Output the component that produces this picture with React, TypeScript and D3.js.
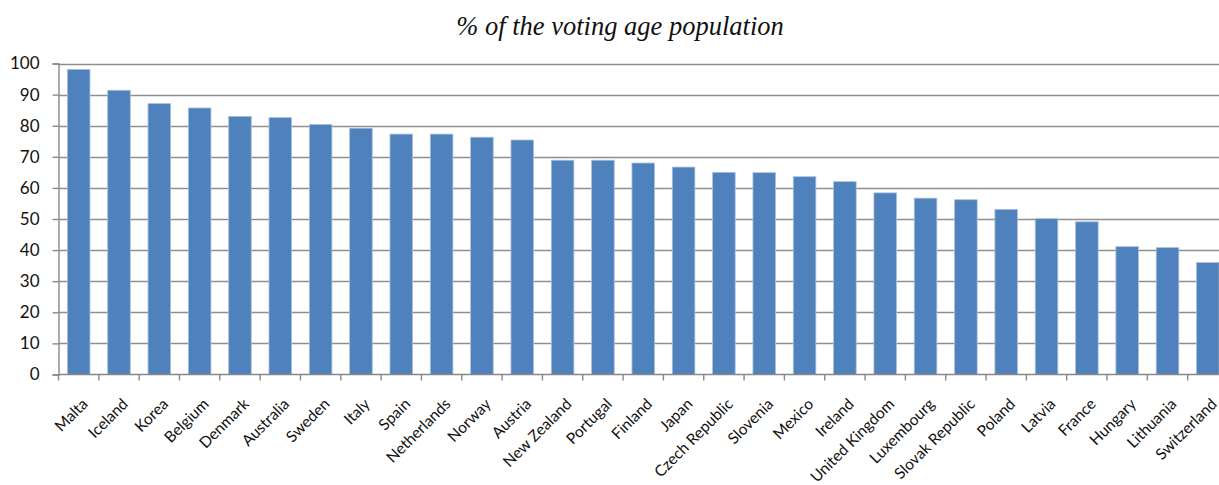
import { useRef, useEffect } from 'react';
import { select, scaleLinear, scaleBand, axisLeft, range } from 'd3';

const countries = [
    'Malta', 'Iceland', 'Korea', 'Belgium', 'Denmark', 'Australia', 'Sweden', 'Italy',
    'Spain', 'Netherlands', 'Norway', 'Austria', 'New Zealand', 'Portugal', 'Finland',
    'Japan', 'Czech Republic', 'Slovenia', 'Mexico', 'Ireland', 'United Kingdom',
    'Luxembourg', 'Slovak Republic', 'Poland', 'Latvia', 'France', 'Hungary', 'Lithuania',
    'Switzerland',
];
const turnout = [
    98.1, 91.4, 87.1, 85.7, 83.0, 82.6, 80.4, 79.2,
    77.3, 77.3, 76.3, 75.4, 68.9, 68.9, 68.0,
    66.7, 65.0, 64.9, 63.6, 62.0, 58.4,
    56.7, 56.2, 53.1, 50.1, 49.1, 41.1, 40.8,
    36.0,
];
const yTicks = [0, 10, 20, 30, 40, 50, 60, 70, 80, 90, 100];
const title = '% of the voting age population';

function App() {
    const graphRef = useRef<SVGSVGElement | null>(null);

    // Set dimensions
    const width = 1219;
    const height = 485;
    const left = 58.5;
    const right = 1228;
    const top = 63.5;
    const bottom = 374.5;

    useEffect(() => {
        const svg = select(graphRef.current);
        svg.selectAll('*').remove();

        const x = scaleBand<string>()
            .domain(countries)
            .range([left, right])
            .paddingInner(0.44)
            .paddingOuter(0.22);
        const y = scaleLinear().domain([0, 100]).range([bottom, top]);

        // Title
        svg.append('text')
            .attr('x', 620)
            .attr('y', 35)
            .attr('text-anchor', 'middle')
            .style('font-family', '"Liberation Serif", "Times New Roman", serif')
            .style('font-style', 'italic')
            .style('font-size', '26.5px')
            .style('fill', '#111')
            .text(title);

        // Gridlines
        svg.append('g')
            .selectAll('line')
            .data(yTicks.slice(1))
            .join('line')
            .attr('x1', left)
            .attr('x2', width)
            .attr('y1', (d) => Math.round(y(d)) + 0.5)
            .attr('y2', (d) => Math.round(y(d)) + 0.5)
            .attr('stroke', '#8f8f8f')
            .attr('stroke-width', 1.4);

        // Bars
        svg.append('g')
            .selectAll('rect')
            .data(turnout)
            .join('rect')
            .attr('x', (d, i) => x(countries[i]) as number)
            .attr('y', (d) => y(d))
            .attr('width', x.bandwidth())
            .attr('height', (d) => bottom - y(d))
            .attr('fill', '#4F81BD')
            .attr('stroke', '#A9C0DE')
            .attr('stroke-width', 0.8);

        // Y axis
        const yAxis = svg.append('g')
            .attr('transform', `translate(${left},0)`)
            .call(axisLeft(y).tickValues(yTicks).tickSize(6).tickPadding(13));
        yAxis.select('.domain').attr('stroke', '#888').attr('stroke-width', 1.4);
        yAxis.selectAll('.tick line').attr('stroke', '#888').attr('stroke-width', 1.4);
        yAxis.selectAll('.tick text')
            .style('font-family', 'Lato, "Open Sans", sans-serif')
            .style('font-size', '17px')
            .style('fill', '#111');

        // X axis line and ticks
        svg.append('line')
            .attr('x1', left)
            .attr('x2', width)
            .attr('y1', bottom)
            .attr('y2', bottom)
            .attr('stroke', '#888')
            .attr('stroke-width', 1.4);
        svg.append('g')
            .selectAll('line')
            .data(range(countries.length + 1))
            .join('line')
            .attr('x1', (d) => left + d * x.step())
            .attr('x2', (d) => left + d * x.step())
            .attr('y1', bottom)
            .attr('y2', bottom + 6)
            .attr('stroke', '#888')
            .attr('stroke-width', 1.4);

        // Category labels
        svg.append('g')
            .selectAll('text')
            .data(countries)
            .join('text')
            .attr('transform', (d) => `translate(${(x(d) as number) + x.bandwidth() / 2 + 10},405) rotate(-45)`)
            .attr('text-anchor', 'end')
            .style('font-family', 'Lato, "Open Sans", sans-serif')
            .style('font-size', '15.5px')
            .style('fill', '#111')
            .text((d) => d);
    }, []);

    return (
        <div>
            <svg
                ref={graphRef}
                width={width}
                height={height}
                viewBox={`0 0 ${width} ${height}`}
                style={{ position: 'absolute', left: 0, top: 0, background: '#fff' }}
            ></svg>
        </div>
    );
}

export default App;
